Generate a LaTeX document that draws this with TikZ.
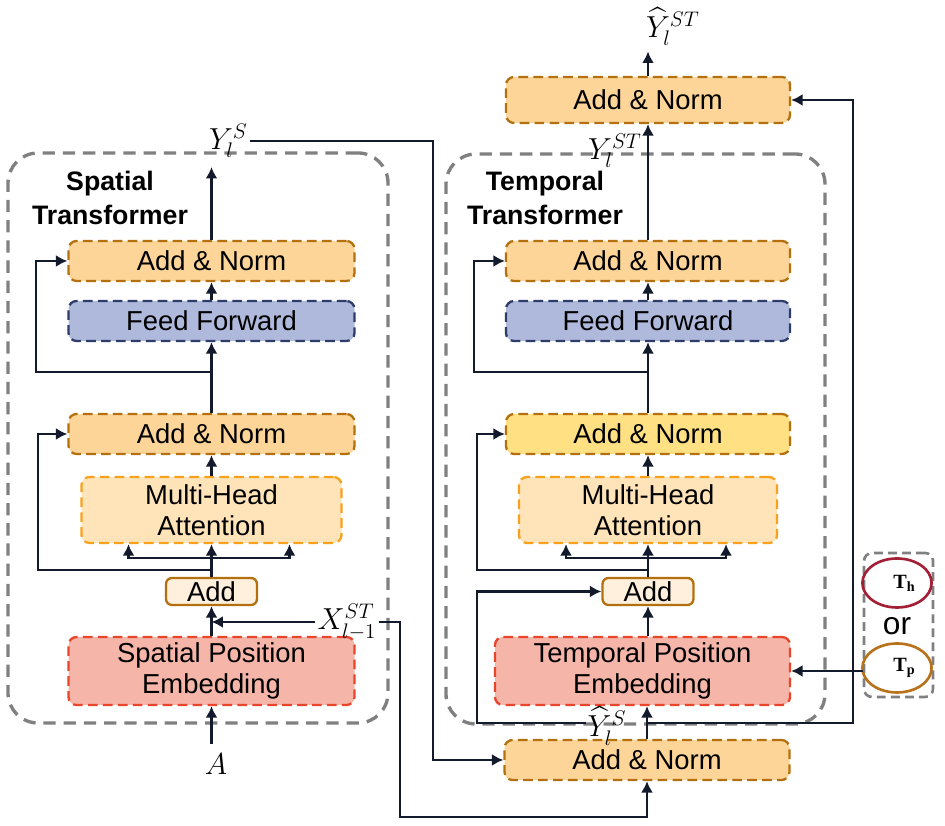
\documentclass[tikz,border=0pt]{standalone}
\usepackage{amsmath}
\usepackage{fontspec}
\setmainfont{Liberation Sans}
\newfontfamily\tfont{Liberation Serif}
\usetikzlibrary{arrows.meta, shapes.geometric, calc}

\definecolor{normfill}{HTML}{FDD598}
\definecolor{normline}{HTML}{B4700E}
\definecolor{normyel}{HTML}{FFE083}
\definecolor{fffill}{HTML}{AFB9DC}
\definecolor{ffline}{HTML}{2E3C6A}
\definecolor{mhafill}{HTML}{FFE4BA}
\definecolor{mhaline}{HTML}{F7A11C}
\definecolor{addfill}{HTML}{FEF0DD}
\definecolor{pefill}{HTML}{F5B5A8}
\definecolor{peline}{HTML}{E8452B}
\definecolor{arrc}{HTML}{131A2B}
\definecolor{framec}{HTML}{808080}
\definecolor{thc}{HTML}{A31F36}
\definecolor{tpc}{HTML}{B8721C}

\begin{document}
\begin{tikzpicture}[
  font=\fontsize{15.6}{17.5}\selectfont,
  blk/.style={rounded corners=0.16cm, line width=1.3pt, dash pattern=on 5.5pt off 3pt,
    align=center, inner sep=0pt, minimum height=0.8cm},
  normbox/.style={blk, draw=normline, fill=normfill, minimum width=5.72cm},
  ffbox/.style={blk, draw=ffline, fill=fffill, minimum width=5.72cm},
  mhabox/.style={blk, draw=mhaline, fill=mhafill, minimum height=1.32cm},
  pebox/.style={blk, draw=peline, fill=pefill, minimum height=1.36cm},
  addbox/.style={draw=normline, fill=addfill, rounded corners=0.12cm, line width=1.3pt,
    minimum width=1.82cm, minimum height=0.54cm, inner sep=0pt},
  frame/.style={draw=framec, line width=1.9pt, dash pattern=on 7pt off 4.5pt,
    rounded corners=0.6cm, minimum height=11.4cm},
  ttl/.style={font=\bfseries\fontsize{15.2}{19.8}\selectfont, align=center},
  lbl/.style={font=\fontsize{17.28}{19}\selectfont, inner sep=1pt},
  arr/.style={draw=arrc, line width=1.6pt, -{Latex[length=6.5pt,width=6.8pt]}},
  tcirc/.style={ellipse, line width=1.5pt, minimum width=1.12cm, minimum height=0.98cm,
    font=\tfont\bfseries\fontsize{11.5}{13}\selectfont}
]
  \useasboundingbox (0,0) rectangle (18.9,16.52);

  % cornici
  \node[frame, minimum width=7.6cm] (fS) at (3.96,7.76) {};
  \node[frame, minimum width=7.58cm] (fT) at (12.71,7.74) {};
  \node[ttl] (tS) at (2.2,12.56) {Spatial\\Transformer};
  \node[ttl] (tT) at (10.9,12.56) {Temporal\\Transformer};

  % blocco spaziale
  \node[pebox, minimum width=5.72cm] (speL) at (4.23,3.10) {Spatial Position\\Embedding};
  \node[addbox] (addL) at (4.23,4.69) {Add};
  \node[mhabox, minimum width=5.2cm] (mhaL) at (4.23,6.32) {Multi-Head\\Attention};
  \node[normbox] (anL1) at (4.23,7.84) {Add \& Norm};
  \node[ffbox] (ffL) at (4.23,10.10) {Feed Forward};
  \node[normbox] (anL2) at (4.23,11.30) {Add \& Norm};

  % blocco temporale
  \node[pebox, minimum width=5.9cm] (tpeR) at (12.85,3.10) {Temporal Position\\Embedding};
  \node[addbox] (addR) at (12.96,4.69) {Add};
  \node[mhabox, minimum width=5.16cm] (mhaR) at (12.96,6.32) {Multi-Head\\Attention};
  \node[normbox, fill=normyel, minimum width=5.68cm] (anR1) at (12.96,7.84) {Add \& Norm};
  \node[ffbox, minimum width=5.68cm] (ffR) at (12.96,10.10) {Feed Forward};
  \node[normbox, minimum width=5.68cm] (anR2) at (12.96,11.30) {Add \& Norm};
  \node[normbox, minimum width=5.68cm, minimum height=0.92cm] (anTop) at (12.96,14.52) {Add \& Norm};
  \node[normbox, minimum width=5.7cm] (anBot) at (12.94,1.32) {Add \& Norm};

  % Th / Tp
  \node[frame, rounded corners=0.16cm, minimum width=1.38cm, minimum height=2.88cm,
    line width=1.5pt, dash pattern=on 5pt off 3pt] (tbox) at (17.97,4.02) {};
  \node[tcirc, draw=thc] (th) at (17.94,4.86) {\hspace*{0.3cm}T\textsubscript{h}};
  \node[tcirc, draw=tpc] (tp) at (17.94,3.16) {\hspace*{0.3cm}T\textsubscript{p}};
  \node[font=\fontsize{18}{20}\selectfont] (or) at (17.94,4.0) {or};

  % etichette
  \node[lbl] (A) at (4.32,1.24) {$A$};
  \node[lbl] (XL) at (6.94,4.08) {$X_{l-1}^{ST}$};
  \node[lbl, anchor=south west] (YS) at (4.14,13.32) {$Y_l^S$};
  \node[lbl] (YST) at (12.3,13.5) {$Y_l^{ST}$};
  \node[lbl] (YhS) at (12.14,2.0) {$\widehat{Y}_l^S$};
  \node[lbl, anchor=south west] (YhST) at (12.88,15.56) {$\widehat{Y}_l^{ST}$};

  \coordinate (rL1) at (0.76,5.12);
  \coordinate (rL2) at (0.72,9.08);
  \coordinate (rR1) at (9.54,5.12);
  \coordinate (rR2) at (9.48,9.08);
  \coordinate (bL) at (4.23,5.36);
  \coordinate (bR) at (12.96,5.36);
  \coordinate (xS) at (8.66,0);
  \coordinate (xX) at (8.0,0.18);
  \coordinate (jR) at (12.94,2.06);
  \coordinate (xR) at (17.06,2.06);
  \coordinate (xLb) at (9.54,0);

  % frecce spaziali
  \draw[arr, shorten <=4pt] (A.north -| speL) -- (speL.south);
  \draw[arr] (speL.north -| addL) -- (addL.south);
  \draw[arr] (XL.west) -- (XL.west -| addL);
  \draw[arr] (addL.north) -- (bL) -- (mhaL.south);
  \draw[arr] (bL) -| ([xshift=-1.66cm]mhaL.south);
  \draw[arr] (bL) -| ([xshift=1.56cm]mhaL.south);
  \draw[arr] (addL.north |- rL1) -- (rL1) |- (anL1.west);
  \draw[arr] (mhaL) -- (anL1);
  \draw[arr] (anL1) -- (ffL);
  \draw[arr] (anL1.north |- rL2) -- (rL2) |- (anL2.west);
  \draw[arr] (ffL) -- (anL2);
  \draw[arr, shorten >=4pt] (anL2.north) -- (anL2.north |- YS.south);
  \draw[arr] (YS.east) -- (YS.east -| xS) |- (anBot.west);
  \draw[arr] (XL.east) -| (xX) -| (anBot.south);

  % frecce temporali
  \draw[arr] (anBot.north) -- (anBot.north |- tpeR.south);
  \draw[arr] (jR) -- (xR) |- (anTop.east);
  \draw[arr] (YhS.west |- jR) -- (jR -| xLb) |- (addR.west);
  \draw[arr] (tbox.west |- tpeR.east) -- (tpeR.east);
  \draw[arr] (tpeR.north -| addR) -- (addR.south);
  \draw[arr] (addR.north) -- (bR) -- (mhaR.south);
  \draw[arr] (bR) -| ([xshift=-1.64cm]mhaR.south);
  \draw[arr] (bR) -| ([xshift=1.56cm]mhaR.south);
  \draw[arr] (addR.north |- rR1) -- (rR1) |- (anR1.west);
  \draw[arr] (mhaR) -- (anR1);
  \draw[arr] (anR1) -- (ffR);
  \draw[arr] (anR1.north |- rR2) -- (rR2) |- (anR2.west);
  \draw[arr] (ffR) -- (anR2);
  \draw[arr] (anR2) -- (anTop);
  \draw[arr, shorten >=2pt] (anTop.north) -- (anTop.north |- YhST.south);
\end{tikzpicture}
\end{document}
